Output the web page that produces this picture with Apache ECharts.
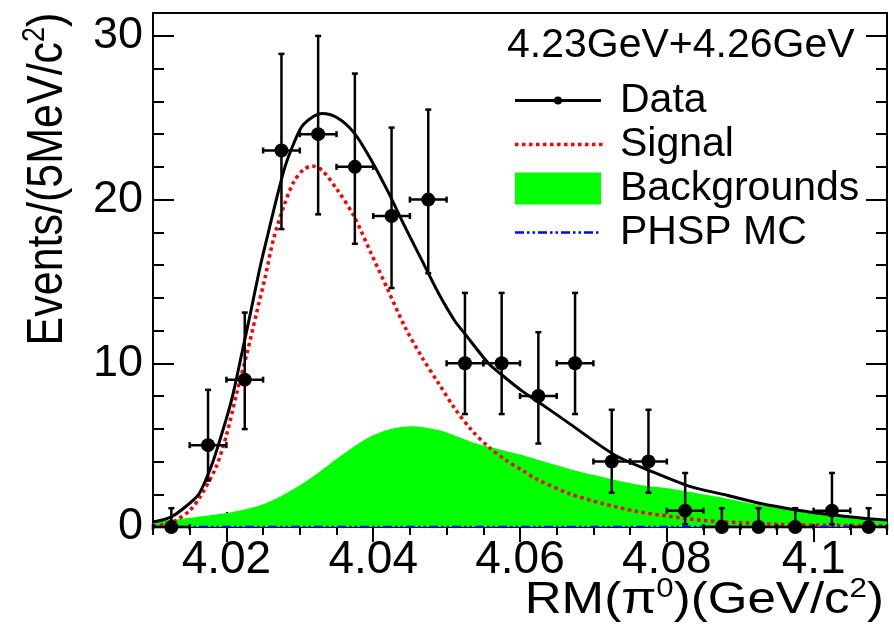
<!DOCTYPE html>
<html>
<head>
<meta charset="utf-8">
<script src="https://cdn.jsdelivr.net/npm/echarts@6/dist/echarts.min.js"></script>
<style>
  html, body { margin: 0; padding: 0; background: #fff; }
  #chart { width: 894px; height: 631px; }
</style>
</head>
<body>
<div id="chart"></div>
<script>
// 5 MeV bins between 4.01 and 4.11 GeV/c^2
const binCenters = [4.0125, 4.0175, 4.0225, 4.0275, 4.0325, 4.0375, 4.0425, 4.0475, 4.0525, 4.0575,
                    4.0625, 4.0675, 4.0725, 4.0775, 4.0825, 4.0875, 4.0925, 4.0975, 4.1025, 4.1075];
const counts     = [0, 5, 9, 23, 24, 22, 19, 20, 10, 10, 8, 10, 4, 4, 1, 0, 0, 0, 1, 0];
// lower / upper ends of the Poisson error bars
const errLow  = [0, 2.84, 5.98, 18.2, 19.1, 17.3, 14.6, 15.5, 6.9, 6.9, 5.1, 6.9, 2.09, 2.09, 0.17, 0, 0, 0, 0.17, 0];
const errHigh = [1.15, 8.38, 13.1, 28.9, 30.0, 27.7, 24.4, 25.5, 14.3, 14.3, 11.9, 14.3, 7.16, 7.16, 3.3, 1.15, 1.15, 1.15, 3.3, 1.15];

// fit components [mass, events]
const fitTotal = [[4.0100, 0.30], [4.0125, 0.62], [4.0150, 1.45], [4.0163, 2.04], [4.0179, 3.67], [4.0189, 5.0],
  [4.0207, 7.75], [4.0221, 10.6], [4.0232, 12.9], [4.0246, 15.9], [4.0257, 17.96], [4.0268, 20.0], [4.0280, 22.03],
  [4.0292, 23.46], [4.0303, 24.48], [4.0319, 25.09], [4.0330, 25.26], [4.0351, 25.0], [4.0374, 24.08], [4.0397, 22.44],
  [4.0420, 20.5], [4.0443, 18.36], [4.0466, 16.32], [4.0489, 14.28], [4.0511, 12.6], [4.0525, 11.8], [4.0557, 10.0],
  [4.0575, 9.3], [4.0603, 8.3], [4.0628, 7.55], [4.0667, 6.33], [4.0729, 4.4], [4.0779, 3.4], [4.0830, 2.5],
  [4.0882, 1.94], [4.0928, 1.43], [4.0974, 1.06], [4.1019, 0.78], [4.1065, 0.55], [4.1100, 0.42]];

const fitSignal = [[4.0100, 0.05], [4.0120, 0.2], [4.0131, 0.4], [4.0150, 1.0], [4.0165, 1.9], [4.0186, 3.67],
  [4.0200, 5.6], [4.0214, 8.16], [4.0228, 10.6], [4.0241, 13.06], [4.0253, 15.3], [4.0264, 17.55], [4.0278, 19.58],
  [4.0292, 21.1], [4.0305, 21.83], [4.0317, 22.05], [4.0330, 21.8], [4.0351, 20.6], [4.0374, 18.97], [4.0397, 16.73],
  [4.0420, 14.49], [4.0443, 12.24], [4.0466, 10.4], [4.0489, 8.78], [4.0511, 7.25], [4.0534, 5.92], [4.0557, 4.9],
  [4.0580, 4.1], [4.0603, 3.47], [4.0621, 2.96], [4.0667, 2.04], [4.0713, 1.43], [4.0759, 0.95], [4.0804, 0.65],
  [4.0850, 0.4], [4.0900, 0.26], [4.0950, 0.17], [4.1000, 0.12], [4.1050, 0.09], [4.1100, 0.07]];

const fitBackground = [[4.0100, 0.35], [4.0140, 0.51], [4.0200, 0.85], [4.0246, 1.33], [4.0275, 1.9], [4.0300, 2.55],
  [4.0325, 3.3], [4.0350, 4.15], [4.0375, 4.95], [4.0400, 5.6], [4.0425, 6.0], [4.0452, 6.16], [4.0489, 5.92],
  [4.0516, 5.5], [4.0534, 5.2], [4.0562, 4.85], [4.0580, 4.65], [4.0603, 4.4], [4.0621, 4.15], [4.0667, 3.55],
  [4.0713, 3.05], [4.0759, 2.6], [4.0804, 2.35], [4.0836, 2.1], [4.0882, 1.73], [4.0928, 1.33], [4.0974, 1.02],
  [4.1019, 0.72], [4.1065, 0.51], [4.1100, 0.40]];

const phspMC = [[4.0100, 0], [4.0600, 0], [4.1100, 0]];

const xTickValues = [4.02, 4.04, 4.06, 4.08, 4.1];
const headerText = '4.23GeV+4.26GeV';
const legendNames = ['Data', 'Signal', 'Backgrounds', 'PHSP MC'];

const FONT = '"Liberation Sans", Arial, Helvetica, sans-serif';
const halfBin = (binCenters[1] - binCenters[0]) / 2;

// legend glyphs, drawn in a 100 x 32 box
function dotsPath() {
  let p = 'path://M0,0M100,32';
  for (let x = 0; x < 86; x += 7) p += `M${x},14.25h3.5v3.5h-3.5Z`;
  return p;
}
function dashDotPath() {
  let p = 'path://M0,0M100,32';
  const seg = [[0, 9], [12, 2.5], [17.5, 2.5]];
  for (let x0 = 0; x0 < 86; x0 += 23) {
    seg.forEach(([o, w]) => {
      const a = x0 + o, b = Math.min(x0 + o + w, 86);
      if (b > a) p += `M${a},14.75L${b},14.75L${b},17.25L${a},17.25Z`;
    });
  }
  return p;
}
const iconData = 'path://M0,0M100,32M0,14.5L86,14.5L86,17.5L0,17.5Z' +
                 'M39,16A4,4,0,1,1,47,16A4,4,0,1,1,39,16Z';
const iconBand = 'path://M0,0M100,32M0,0L86,0L86,32L0,32Z';

const chart = echarts.init(document.getElementById('chart'), null, { renderer: 'canvas' });

const tickStyle = { color: '#000', width: 2 };
function xAxisDef(position, major) {
  const a = {
    type: 'value', min: 4.01, max: 4.11, position: position,
    axisLine: { show: false }, splitLine: { show: false },
    axisTick: { show: true, inside: true, length: major ? 15 : 8, lineStyle: tickStyle },
    axisLabel: { show: false }
  };
  if (major) {
    a.axisTick.customValues = xTickValues;
    a.axisLabel = position === 'bottom'
      ? { show: true, customValues: xTickValues, color: '#000', fontFamily: FONT, fontSize: 46,
          margin: 10, formatter: v => String(+v.toFixed(2)) }
      : { show: false, customValues: xTickValues };
  } else {
    a.interval = 0.005;
  }
  return a;
}
function yAxisDef(position, major) {
  return {
    type: 'value', min: 0, max: 31.4, interval: major ? 10 : 2, position: position,
    axisLine: { show: false }, splitLine: { show: false },
    axisTick: { show: true, inside: true, length: major ? 21 : 11, lineStyle: tickStyle },
    axisLabel: (major && position === 'left')
      ? { show: true, showMaxLabel: false, color: '#000', fontFamily: FONT, fontSize: 45, margin: 10 }
      : { show: false }
  };
}

const option = {
  backgroundColor: '#fff',
  animation: false,
  title: {
    text: headerText, left: 507, top: 25, padding: 0,
    textStyle: { color: '#000', fontFamily: FONT, fontSize: 41, fontWeight: 'normal' }
  },
  legend: {
    orient: 'vertical', left: 515, top: 80, padding: 0,
    itemWidth: 100, itemHeight: 32, itemGap: 3,
    selectedMode: false,
    itemStyle: { borderWidth: 0 },
    textStyle: { color: '#000', fontFamily: FONT, fontSize: 41 },
    data: [
      { name: legendNames[0], icon: iconData, itemStyle: { color: '#000' } },
      { name: legendNames[1], icon: dotsPath(), itemStyle: { color: '#ff0000' } },
      { name: legendNames[2], icon: iconBand, itemStyle: { color: '#00ff00' } },
      { name: legendNames[3], icon: dashDotPath(), itemStyle: { color: '#0000ff' } }
    ]
  },
  grid: {
    left: 153, right: 7, top: 13, bottom: 104,
    show: true, borderColor: '#000', borderWidth: 2, backgroundColor: 'transparent'
  },
  xAxis: [xAxisDef('bottom', true), xAxisDef('bottom', false), xAxisDef('top', true), xAxisDef('top', false)],
  yAxis: [yAxisDef('left', true), yAxisDef('left', false), yAxisDef('right', true), yAxisDef('right', false)],
  graphic: [
    {
      type: 'text', x: 884, y: 601, z: 100, scaleX: 1.16,
      style: {
        text: '{m|RM(}{p|π}{s|0}{m|)(GeV/c}{s|2}{m|)}',
        align: 'right', verticalAlign: 'middle', fill: '#000',
        rich: {
          m: { fontFamily: FONT, fontSize: 44, lineHeight: 50, fill: '#000' },
          p: { fontFamily: FONT, fontSize: 44, lineHeight: 50, fill: '#000' },
          s: { fontFamily: FONT, fontSize: 27, lineHeight: 27, verticalAlign: 'top', fill: '#000' }
        }
      }
    },
    {
      type: 'text', x: 48, y: 179, rotation: Math.PI / 2, scaleY: 1.15, z: 100,
      style: {
        text: '{m|Events/(5MeV/c}{s|2}{m|)}',
        align: 'center', verticalAlign: 'middle', fill: '#000',
        rich: {
          m: { fontFamily: FONT, fontSize: 43, lineHeight: 48, fill: '#000' },
          s: { fontFamily: FONT, fontSize: 27, lineHeight: 27, verticalAlign: 'top', fill: '#000' }
        }
      }
    }
  ],
  series: [
    {
      name: 'Backgrounds', type: 'line', data: fitBackground, smooth: 0.3,
      symbol: 'none', color: '#00ff00', z: 2,
      lineStyle: { width: 0 }, areaStyle: { color: '#00ff00', opacity: 1 }
    },
    {
      name: 'Signal', type: 'line', data: fitSignal, smooth: 0.3,
      symbol: 'none', color: '#ff0000', z: 3,
      lineStyle: { width: 3.5, color: '#ff0000', type: [3.5, 3.5] }
    },
    {
      name: 'PHSP MC', type: 'line', data: phspMC, symbol: 'none', color: '#0000ff', z: 4,
      lineStyle: { width: 2.5, color: '#0000ff', type: [9, 3, 2.5, 3, 2.5, 3] }
    },
    {
      name: 'Total fit', type: 'line', data: fitTotal, smooth: 0.3,
      symbol: 'none', color: '#000', z: 5,
      lineStyle: { width: 3, color: '#000' }
    },
    {
      name: 'Data', type: 'custom', z: 6, color: '#000',
      itemStyle: { color: '#000' },
      data: binCenters.map((x, i) => [x, counts[i], errLow[i], errHigh[i]]),
      encode: { x: 0, y: 1 },
      renderItem: function (params, api) {
        const x = api.value(0), y = api.value(1);
        const c = api.coord([x, y]);
        const lo = api.coord([x, api.value(2)]);
        const hi = api.coord([x, api.value(3)]);
        const l = api.coord([x - halfBin, y]);
        const r = api.coord([x + halfBin, y]);
        const cap = 3;
        const st = { stroke: '#000', lineWidth: 2.5 };
        const seg = (x1, y1, x2, y2) => ({ type: 'line', shape: { x1, y1, x2, y2 }, style: st });
        const kids = [
          seg(lo[0], lo[1], hi[0], hi[1]),
          seg(hi[0] - cap, hi[1], hi[0] + cap, hi[1]),
          seg(l[0], l[1], r[0], r[1]),
          seg(l[0], l[1] - cap, l[0], l[1] + cap),
          seg(r[0], r[1] - cap, r[0], r[1] + cap),
          { type: 'circle', shape: { cx: c[0], cy: c[1], r: 7 }, style: { fill: '#000' } }
        ];
        if (api.value(2) > 0) kids.push(seg(lo[0] - cap, lo[1], lo[0] + cap, lo[1]));
        return { type: 'group', children: kids };
      }
    }
  ]
};

chart.setOption(option);
</script>
</body>
</html>
